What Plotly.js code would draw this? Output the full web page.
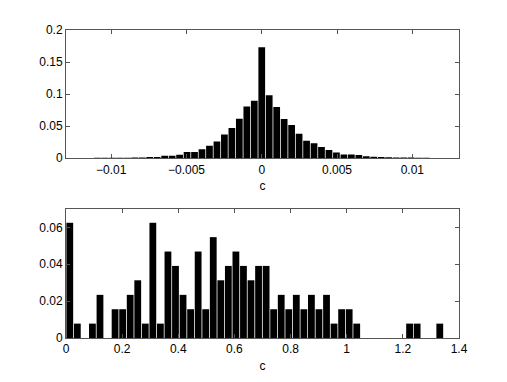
<!DOCTYPE html>
<html>
<head>
<meta charset="utf-8">
<script src="https://cdn.plot.ly/plotly-3.0.1.min.js"></script>
<style>
  html, body { margin: 0; padding: 0; background: #fff; }
  #chart { width: 507px; height: 382px; }
</style>
</head>
<body>
<div id="chart"></div>
<script>
// top histogram: 45 bins, centred on 0, bin width ~0.000496
var topStart = -22 * 0.000496
var topWidth = 0.000496
var topHeights = [
  0.0005, 0.0005, 0.0005, 0.0005, 0.0006, 0.001, 0.001, 0.0018, 0.0018,
  0.0037, 0.0037, 0.0054, 0.0094, 0.0094, 0.014, 0.0193, 0.026, 0.037,
  0.0469, 0.0615, 0.0807, 0.0896, 0.173, 0.0982, 0.0797, 0.0609, 0.0516,
  0.038, 0.0271, 0.0234, 0.0172, 0.0125, 0.0089, 0.0058, 0.0058, 0.005,
  0.0028, 0.002, 0.0016, 0.0013, 0.001, 0.001, 0.0008, 0.0005, 0.0005
]

// bottom histogram: 50 bins between 0 and ~1.345
var botWidth = 0.0269
var botStart = botWidth / 2
var botHeights = [
  0.0625, 0.0078, 0, 0.0078, 0.0234, 0, 0.0156, 0.0156, 0.0234, 0.0313,
  0.0078, 0.0625, 0.0078, 0.0469, 0.0391, 0.0234, 0.0156, 0.0469, 0.0156, 0.0547,
  0.0313, 0.0391, 0.0469, 0.0391, 0.0313, 0.0391, 0.0391, 0.0156, 0.0234, 0.0156,
  0.0234, 0.0156, 0.0234, 0.0156, 0.0234, 0.0078, 0.0156, 0.0156, 0.0078, 0,
  0, 0, 0, 0, 0, 0.0078, 0.0078, 0, 0, 0.0078
]

var topTrace = {
  type: 'bar',
  y: topHeights,
  x0: topStart,
  dx: topWidth,
  marker: {color: '#000', line: {width: 0}},
  xaxis: 'x',
  yaxis: 'y',
  hoverinfo: 'x+y'
}
var botTrace = {
  type: 'bar',
  y: botHeights,
  x0: botStart,
  dx: botWidth,
  marker: {color: '#000', line: {width: 0}},
  xaxis: 'x2',
  yaxis: 'y2',
  hoverinfo: 'x+y'
}

function ax(extra) {
  var a = {
    showline: true,
    linecolor: '#555',
    linewidth: 1,
    mirror: 'ticks',
    ticks: 'inside',
    ticklen: 4,
    tickcolor: '#555',
    zeroline: false,
    showgrid: false,
    tickfont: {size: 12, color: '#000'}
  }
  for (var k in extra) a[k] = extra[k]
  return a
}

var layout = {
  width: 507,
  height: 382,
  margin: {l: 66, r: 48, t: 30, b: 44},
  paper_bgcolor: '#fff',
  plot_bgcolor: '#fff',
  font: {family: 'Liberation Sans, Arial, sans-serif', size: 12, color: '#000'},
  showlegend: false,
  bargap: 0.1,
  xaxis: ax({range: [-0.013, 0.0131], dtick: 0.005, tick0: 0, anchor: 'y',
    title: {text: 'c', font: {size: 12}, standoff: 6}}),
  yaxis: ax({range: [0, 0.2], dtick: 0.05, domain: [0.584, 1], anchor: 'x'}),
  xaxis2: ax({range: [0, 1.4], dtick: 0.2, tick0: 0, anchor: 'y2',
    title: {text: 'c', font: {size: 12}, standoff: 6}}),
  yaxis2: ax({range: [0, 0.07], tickvals: [0, 0.02, 0.04, 0.06], domain: [0, 0.419], anchor: 'x2'})
}

Plotly.newPlot('chart', [topTrace, botTrace], layout, {displayModeBar: false, staticPlot: true})
</script>
</body>
</html>
